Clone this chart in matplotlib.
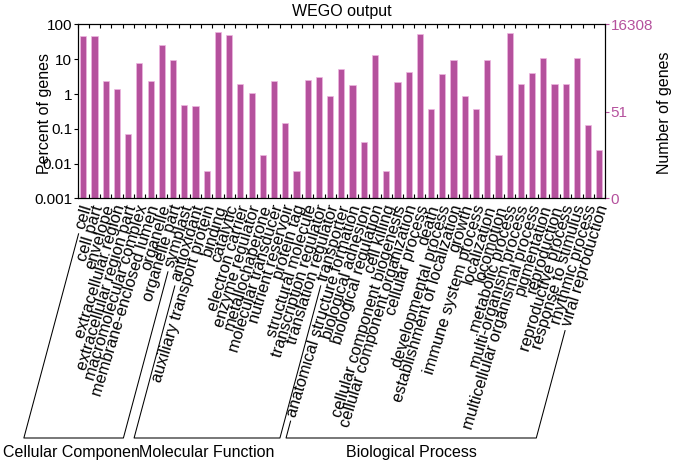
import numpy as np
import matplotlib
matplotlib.use('Agg')
import matplotlib.pyplot as plt
from matplotlib.ticker import NullLocator, FixedLocator
from matplotlib.lines import Line2D
from matplotlib.transforms import ScaledTranslation

plt.rcParams['font.family'] = ['Liberation Sans', 'DejaVu Sans']

# ---------------- data ----------------
cc_terms = ['cell', 'cell part', 'envelope', 'extracellular region',
            'extracellular region part', 'macromolecular complex',
            'membrane-enclosed lumen', 'organelle', 'organelle part', 'symplast']
cc_pct = [46, 46, 2.4, 1.44, 0.072, 7.9, 2.3, 25.5, 9.8, 0.49]

mf_terms = ['antioxidant', 'auxiliary transport protein', 'binding', 'catalytic',
            'electron carrier', 'enzyme regulator', 'metallochaperone',
            'molecular transducer', 'nutrient reservoir', 'protein tag',
            'structural molecule', 'transcription regulator',
            'translation regulator', 'transporter']
mf_pct = [0.45, 0.0061, 60, 50, 1.96, 1.05, 0.018, 2.3, 0.147, 0.0061,
          2.6, 3.0, 0.85, 5.2]

bp_terms = ['anatomical structure formation', 'biological adhesion',
            'biological regulation', 'cell killing',
            'cellular component biogenesis', 'cellular component organization',
            'cellular process', 'death', 'developmental process',
            'establishment of localization', 'growth', 'immune system process',
            'localization', 'locomotion', 'metabolic process',
            'multi-organism process', 'multicellular organismal process',
            'pigmentation', 'reproduction', 'reproductive process',
            'response to stimulus', 'rhythmic process', 'viral reproduction']
bp_pct = [1.8, 0.043, 12.9, 0.0061, 2.25, 4.3, 55, 0.37, 3.8, 9.3, 0.87,
          0.38, 9.5, 0.018, 58, 2.0, 3.9, 11, 2.0, 2.0, 11, 0.13, 0.024]

group_names = ['Cellular Component', 'Molecular Function', 'Biological Process']
total_genes = 16308
right_tick_counts = [0, 51, 16308]
left_ticks = [0.001, 0.01, 0.1, 1, 10, 100]
left_tick_labels = ['0.001', '0.01', '0.1', '1', '10', '100']

# ---------------- figure ----------------
W, H = 675, 465
BAR = '#b5519d'
fig = plt.figure(figsize=(W / 100, H / 100), dpi=100)
ax_l, ax_r, ax_t, ax_b = 77.7, 605.0, 24.5, 198.3
ax = fig.add_axes([ax_l / W, 1 - ax_b / H, (ax_r - ax_l) / W, (ax_b - ax_t) / H])

terms = cc_terms + mf_terms + bp_terms
pct = cc_pct + mf_pct + bp_pct
sizes = [len(cc_terms), len(mf_terms), len(bp_terms)]
x = np.arange(len(terms))

ax.bar(x, pct, width=0.55, color=BAR, edgecolor='#eeb6e0', linewidth=0.5)
ax.set_yscale('log')
ax.set_ylim(0.001, 100)
ax.set_xlim(-0.5, len(terms) - 0.5)
ax.yaxis.set_major_locator(FixedLocator(left_ticks))
ax.set_yticklabels(left_tick_labels)
ax.yaxis.set_minor_locator(NullLocator())
ax.tick_params(axis='y', direction='out', length=3, width=0.8, labelsize=11, pad=1)

ax.set_xticks(x)
ax.set_xticklabels(terms, rotation=73, ha='right', va='center',
                   rotation_mode='anchor', fontsize=11.8)
ax.tick_params(axis='x', which='major', length=0, pad=5)
shift = ScaledTranslation(4 / 100, 0, fig.dpi_scale_trans)
for lbl in ax.get_xticklabels():
    lbl.set_transform(lbl.get_transform() + shift)
ax.set_xticks(np.arange(len(terms) + 1) - 0.5, minor=True)
ax.tick_params(axis='x', which='minor', direction='in', length=3, width=0.8,
               top=True, bottom=True)
for s in ax.spines.values():
    s.set_linewidth(0.8)

ax.set_title('WEGO output', fontsize=11.5, pad=6)

# right axis
ax2 = ax.twinx()
ax2.set_yscale('log')
ax2.set_ylim(ax.get_ylim())
rpos = [max(c / total_genes * 100, ax.get_ylim()[0]) for c in right_tick_counts]
ax2.yaxis.set_major_locator(FixedLocator(rpos))
ax2.set_yticklabels([str(c) for c in right_tick_counts])
ax2.yaxis.set_minor_locator(NullLocator())
ax2.tick_params(axis='y', direction='out', length=3, width=0.8, labelsize=11,
                pad=1, colors=BAR)
for s in ax2.spines.values():
    s.set_linewidth(0.8)

fig.text(45 / W, 1 - 113 / H, 'Percent of genes', rotation=90, ha='center',
         va='center', fontsize=11.5)
fig.text(665 / W, 1 - 113 / H, 'Number of genes', rotation=90, ha='center',
         va='center', fontsize=11.5)

# ---------------- group brackets ----------------
fig.canvas.draw()
r = fig.canvas.get_renderer()
labels = ax.get_xticklabels()
th = np.deg2rad(73)
c, s = np.cos(th), np.sin(th)
bth = np.deg2rad(75)
bc, bs = np.cos(bth), np.sin(bth)
y_base = H - 438  # display coords
gap = 5


def start_point(lbl):
    bb = lbl.get_window_extent(r)
    w, ht = bb.width, bb.height
    L = (w * c - ht * s) / (c * c - s * s)
    cx, cy = (bb.x0 + bb.x1) / 2, (bb.y0 + bb.y1) / 2
    sx, sy = cx - L / 2 * c, cy - L / 2 * s
    return sx - gap * c, sy - gap * s


def down_to_base(px, py):
    t = (py - y_base) / bs
    return px - t * bc, y_base


idx = 0
for name, n in zip(group_names, sizes):
    p1 = start_point(labels[idx])
    p2 = start_point(labels[idx + n - 1])
    b1 = down_to_base(*p1)
    b2 = down_to_base(*p2)
    xs = [p1[0], b1[0], b2[0], p2[0]]
    ys = [p1[1], b1[1], b2[1], p2[1]]
    fig.add_artist(Line2D([v / W for v in xs], [v / H for v in ys],
                          transform=fig.transFigure, color='black', lw=0.75))
    fig.text((b1[0] + b2[0]) / 2 / W, (y_base - 14) / H, name, ha='center',
             va='center', fontsize=11.5,
             bbox=dict(facecolor='white', edgecolor='none', pad=0))
    idx += n

fig.savefig('out.png', dpi=100)
